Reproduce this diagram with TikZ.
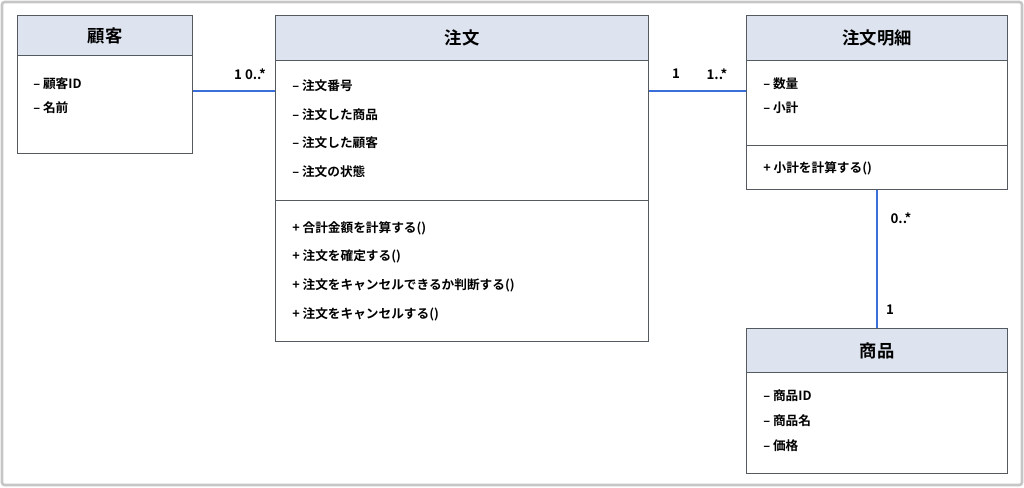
\documentclass[tikz,border=0pt]{standalone}
\usepackage{fontspec}
\setmainfont{Noto Sans CJK JP}[BoldFont={* Bold}]
\usepackage{tikz}

\definecolor{headfill}{HTML}{DDE4F0}
\definecolor{boxline}{HTML}{555A60}
\definecolor{linkblue}{HTML}{3A6FD8}

\begin{document}
\begin{tikzpicture}[x=0.75pt,y=-0.75pt,
		head/.style={rectangle,draw=boxline,fill=headfill,line width=1pt,anchor=north west,inner sep=0pt,font=\bfseries\fontsize{13}{15}\selectfont},
		part/.style={rectangle,draw=boxline,fill=white,line width=1pt,anchor=north west,inner sep=0pt},
		item/.style={anchor=west,inner sep=0pt,font=\bfseries\fontsize{9.5}{11}\selectfont},
		mult/.style={inner sep=0pt,font=\bfseries\fontsize{10}{12}\selectfont},
		link/.style={draw=linkblue,line width=1.2pt}]
		
		\useasboundingbox (0,0) rectangle (1024,487);
		\draw[draw=gray!45,line width=2pt,rounded corners=2pt] (2,2) rectangle (1022,485);
		
		% 顧客
		\node[head,minimum width=175*0.75pt,minimum height=40*0.75pt] (kh) at (17,15) {};
		\node[part,minimum width=175*0.75pt,minimum height=98*0.75pt] (kb) at (17,55) {};
		\node[head,draw=none,fill=none,anchor=center] (kt) at (kh.center) {顧客};
		\node[item] (k1) at (33,84) {– 顧客ID};
		\node[item] (k2) at (33,108) {– 名前};
		
		% 注文
		\node[head,minimum width=373*0.75pt,minimum height=45*0.75pt] (oh) at (275,15) {};
		\node[part,minimum width=373*0.75pt,minimum height=140*0.75pt] (ob) at (275,60) {};
		\node[part,minimum width=373*0.75pt,minimum height=141*0.75pt] (om) at (275,200) {};
		\node[head,draw=none,fill=none,anchor=center] (ot) at (oh.center) {注文};
		\node[item] (o1) at (292,86) {– 注文番号};
		\node[item] (o2) at (292,115) {– 注文した商品};
		\node[item] (o3) at (292,143) {– 注文した顧客};
		\node[item] (o4) at (292,172) {– 注文の状態};
		\node[item] (o5) at (292,228) {+ 合計金額を計算する()};
		\node[item] (o6) at (292,256) {+ 注文を確定する()};
		\node[item] (o7) at (292,285) {+ 注文をキャンセルできるか判断する()};
		\node[item] (o8) at (292,314) {+ 注文をキャンセルする()};
		
		% 注文明細
		\node[head,minimum width=261*0.75pt,minimum height=45*0.75pt] (dh) at (746,15) {};
		\node[part,minimum width=261*0.75pt,minimum height=85*0.75pt] (db) at (746,60) {};
		\node[part,minimum width=261*0.75pt,minimum height=44*0.75pt] (dm) at (746,145) {};
		\node[head,draw=none,fill=none,anchor=center] (dt) at (dh.center) {注文明細};
		\node[item] (d1) at (763,84) {– 数量};
		\node[item] (d2) at (763,108) {– 小計};
		\node[item] (d3) at (763,168) {+ 小計を計算する()};
		
		% 商品
		\node[head,minimum width=261*0.75pt,minimum height=44*0.75pt] (ph) at (746,328) {};
		\node[part,minimum width=261*0.75pt,minimum height=101*0.75pt] (pb) at (746,372) {};
		\node[head,draw=none,fill=none,anchor=center] (pt) at (ph.center) {商品};
		\node[item] (p1) at (763,396) {– 商品ID};
		\node[item] (p2) at (763,421) {– 商品名};
		\node[item] (p3) at (763,446) {– 価格};
		
		% 関連
		\coordinate (row) at (0,91);
		\coordinate (col) at (877,0);
		\draw[link] (kb.east |- row) -- (ob.west |- row);
		\draw[link] (ob.east |- row) -- (db.west |- row);
		\draw[link] (dm.south -| col) -- (ph.north -| col);
		
		\node[mult] (m1) at (250,74) {1 0..*};
		\node[mult] (m2) at (676,74) {1};
		\node[mult] (m3) at (717,74) {1..*};
		\node[mult] (m4) at (901,218) {0..*};
		\node[mult] (m5) at (890,310) {1};
\end{tikzpicture}
\end{document}
